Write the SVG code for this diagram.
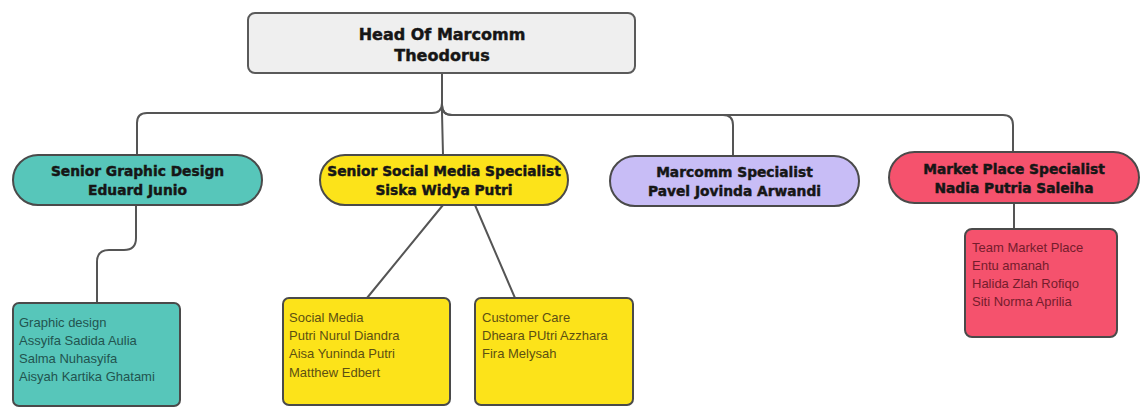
<svg xmlns="http://www.w3.org/2000/svg" width="1142" height="408" viewBox="0 0 1142 408">
<style>
  .conn { fill: none; stroke: #555555; stroke-width: 2; stroke-linecap: round; }
  .head { fill: #efefef; stroke: #5a5a5a; stroke-width: 2; }
  .pill { stroke: #4a4a4a; stroke-width: 2; }
  .leaf { stroke: #4a4a4a; stroke-width: 2; }
  .title { font-family: "DejaVu Sans", "Liberation Sans", sans-serif; font-weight: bold; text-anchor: middle; fill: #161616; stroke: #161616; stroke-width: 0.45; }
  .t16 { font-size: 16px; }
  .t14 { font-size: 13.8px; }
  .item { font-family: "Liberation Sans", Arial, sans-serif; font-size: 13px; }
  .teal { fill: #57c6ba; }
  .yellow { fill: #fce31a; }
  .purple { fill: #c8bdf6; }
  .red { fill: #f5526d; }
</style>
<rect width="1142" height="408" fill="#ffffff"/>
<g id="connectors">
  <path class="conn" d="M442 73 V103 Q442 113 432 113 H147 Q137 113 137 123 V155"/>
  <path class="conn" d="M442 73 V113 L443 155"/>
  <path class="conn" d="M442 105 Q442 115 452 115 H723 Q733 115 733 125 V156"/>
  <path class="conn" d="M442 105 Q442 115 452 115 H1003 Q1013 115 1013 125 V152"/>
  <path class="conn" d="M136 205 V238 Q136 250 124 250 H109 Q97 250 97 262 V303"/>
  <path class="conn" d="M443 205 L367 298"/>
  <path class="conn" d="M475 205 L515 298"/>
  <path class="conn" d="M1014 203 V229"/>
</g>
<g id="head">
  <rect class="head" x="248" y="13" width="387" height="60" rx="7"/>
  <text class="title t16" x="442" y="40">Head Of Marcomm</text>
  <text class="title t16" x="442" y="61">Theodorus</text>
</g>
<g id="senior-graphic">
  <rect class="pill teal" x="13" y="155" width="249" height="50" rx="25"/>
  <text class="title t14" x="137.5" y="176">Senior Graphic Design</text>
  <text class="title t14" x="137.5" y="195">Eduard Junio</text>
</g>
<g id="senior-social">
  <rect class="pill yellow" x="320" y="155" width="248" height="50" rx="25"/>
  <text class="title t14" x="444" y="176">Senior Social Media Specialist</text>
  <text class="title t14" x="444" y="195">Siska Widya Putri</text>
</g>
<g id="marcomm-specialist">
  <rect class="pill purple" x="610" y="156" width="249" height="50" rx="25"/>
  <text class="title t14" x="734.5" y="177">Marcomm Specialist</text>
  <text class="title t14" x="734.5" y="196">Pavel Jovinda Arwandi</text>
</g>
<g id="market-place-specialist">
  <rect class="pill red" x="889" y="152" width="250" height="51" rx="25.5"/>
  <text class="title t14" x="1014" y="174">Market Place Specialist</text>
  <text class="title t14" x="1014" y="193">Nadia Putria Saleiha</text>
</g>
<g id="graphic-team">
  <rect class="leaf teal" x="13" y="303" width="167" height="103" rx="6"/>
  <text class="item" fill="#22544f" x="19" y="327">Graphic design</text>
  <text class="item" fill="#22544f" x="19" y="345">Assyifa Sadida Aulia</text>
  <text class="item" fill="#22544f" x="19" y="363">Salma Nuhasyifa</text>
  <text class="item" fill="#22544f" x="19" y="381">Aisyah Kartika Ghatami</text>
</g>
<g id="social-media-team">
  <rect class="leaf yellow" x="283" y="298" width="167" height="107" rx="6"/>
  <text class="item" fill="#5c5012" x="289" y="322">Social Media</text>
  <text class="item" fill="#5c5012" x="289" y="340">Putri Nurul Diandra</text>
  <text class="item" fill="#5c5012" x="289" y="358">Aisa Yuninda Putri</text>
  <text class="item" fill="#5c5012" x="289" y="377">Matthew Edbert</text>
</g>
<g id="customer-care-team">
  <rect class="leaf yellow" x="475" y="298" width="158" height="107" rx="6"/>
  <text class="item" fill="#5c5012" x="482" y="322">Customer Care</text>
  <text class="item" fill="#5c5012" x="482" y="340">Dheara PUtri Azzhara</text>
  <text class="item" fill="#5c5012" x="482" y="358">Fira Melysah</text>
</g>
<g id="market-place-team">
  <rect class="leaf red" x="965" y="229" width="152" height="108" rx="7"/>
  <text class="item" fill="#741c2c" x="972" y="252">Team Market Place</text>
  <text class="item" fill="#741c2c" x="972" y="270">Entu amanah</text>
  <text class="item" fill="#741c2c" x="972" y="288">Halida Zlah Rofiqo</text>
  <text class="item" fill="#741c2c" x="972" y="306">Siti Norma Aprilia</text>
</g>
</svg>
